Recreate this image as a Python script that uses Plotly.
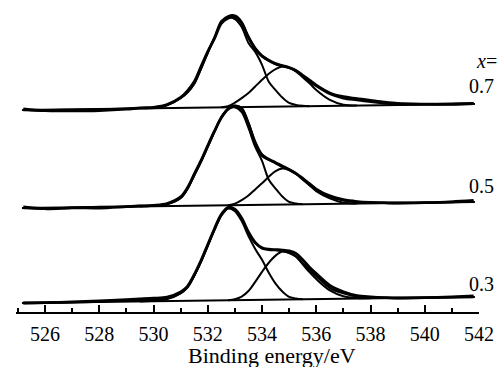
import plotly.graph_objects as go

# Binding energy grid (eV)
energy = [525.2, 526, 527, 528, 529, 529.5, 530, 530.5, 531, 531.25, 531.5, 531.75,
          532, 532.25, 532.5, 532.75, 533, 533.25, 533.5, 533.75, 534, 534.25, 534.5,
          534.75, 535, 535.25, 535.5, 535.75, 536, 536.5, 537, 537.5, 538, 538.5, 539,
          540, 541, 541.8]

# x = 0.7 (top)
top_meas = [1, -1, -1.5, -1.5, -0.5, 0.5, 1, 3.5, 10.5, 17, 26, 41, 56, 69, 84, 89,
            90, 84, 70, 58.5, 51, 46.5, 43, 41, 39, 36, 31, 26, 21, 13, 9, 7, 5, 3, 1.5, 0.5, 0, 0.5]
top_fit = [0, -0.5, -0.5, -0.5, 0, 0.3, 0.5, 3, 10, 15.5, 24, 39, 55, 70, 86, 91,
           91.5, 85, 69, 58, 50.5, 46, 42.5, 40.5, 38.5, 35.5, 30.5, 25, 20, 12, 7.5, 5.5, 3.5, 2, 1, 0.5, 0.5, 0.5]
top_p1 = [0, 0, 0, 0, 0, 0, 0, 3, 10, 15.5, 24, 39, 55, 70, 85, 89.5,
          88, 80, 64, 55, 42, 25, 16.5, 9, 3.5, 1.5, 0.5, 0, 0, 0, 0, 0, 0, 0, 0, 0, 0, 0]
top_p2 = [0, 0, 0, 0, 0, 0, 0, 0, 0, 0, 0, 0, 0, 0, 0, 1,
          4.5, 9, 14, 20.5, 27, 33, 37.5, 40, 39, 35, 29, 23, 16, 6, 1, 0, 0, 0, 0, 0, 0, 0]

# x = 0.5 (middle)
mid_meas = [1, -1, -0.5, -1, 0, 0.5, 1, 2.5, 9, 18, 31.5, 45, 60, 74.5, 87.5, 96,
            99, 96, 81, 62.5, 50, 45.5, 42, 38.5, 35, 31, 26, 20.5, 15, 8, 4, 2, 1, 0.5, 0, 0, 0.5, 1.5]
mid_fit = [0, -0.5, -0.5, 0, 0, 0.5, 0.5, 2, 8, 17, 30.5, 44, 59, 74, 88, 96.5,
           99.5, 97, 82, 62, 49, 45, 41.5, 37.5, 34.5, 30.5, 25, 19.5, 14, 7, 3.5, 1.5, 0.5, 0.3, 0, 0, 0.3, 0.5]
mid_p1 = [0, 0, 0, 0, 0, 0, 0.5, 2, 8, 17, 30.5, 44, 59, 74, 88, 96.5,
          98, 93, 77, 58, 44, 25, 16, 8, 2.5, 1, 0, 0, 0, 0, 0, 0, 0, 0, 0, 0, 0, 0]
mid_p2 = [0, 0, 0, 0, 0, 0, 0, 0, 0, 0, 0, 0, 0, 0, 0, 0,
          1.5, 5, 9.5, 15.5, 21.5, 28, 33.5, 36, 35, 31, 25, 19, 13, 5.5, 1, 0, 0, 0, 0, 0, 0, 0]

# x = 0.3 (bottom)
bot_meas = [0, 0, 0.5, 1, 2, 2.5, 3, 4, 9, 14.5, 26, 40, 56, 72, 86, 93,
            91, 82, 68, 57.5, 52, 50.5, 50, 49.5, 48.5, 46, 39.5, 32, 25.5, 13.5, 7, 3, 1.5, 0.5, 0, 0, 0.5, 1]
bot_fit = [0, 0, 0, 0.5, 1, 1.5, 1.5, 2.5, 8, 13.5, 25, 39, 55, 71, 85, 92,
           90, 81, 67, 57, 51.5, 50, 49.5, 48.5, 46.5, 43, 36, 29, 23, 11, 5.5, 2, 1, 0.5, 0, 0, 0, 0]
bot_p1 = [0, 0, 0, 0, 0, 0, 0.5, 2, 7.5, 13.5, 25, 39, 55, 71, 85, 92,
          89, 79, 64, 51, 40, 27, 16, 8, 2.5, 1, 0, 0, 0, 0, 0, 0, 0, 0, 0, 0, 0, 0]
bot_p2 = [0, 0, 0, 0, 0, 0, 0, 0, 0, 0, 0, 0, 0, 0, 0, 0,
          1, 3.5, 9, 18, 28, 37, 44, 48, 47, 43, 35, 27, 20, 8.5, 2.5, 0.5, 0, 0, 0, 0, 0, 0]

labels = ["0.7", "0.5", "0.3"]
x_ticks = [526, 528, 530, 532, 534, 536, 538, 540, 542]

# ---- layout constants (pixel-based vertical axis) ----
PLOT_H = 312
baselines_px = [(110, 104), (208, 202), (303, 297)]   # left/right baseline pixel rows
label_px = [86, 186, 284]

E0, E1 = energy[0], energy[-1]


def base_val(e, b):
    l, r = b
    px = l + (r - l) * (e - E0) / (E1 - E0)
    return PLOT_H - px


def trim(vals):
    nz = [i for i, v in enumerate(vals) if v != 0]
    a = max(nz[0] - 1, 0)
    z = min(nz[-1] + 1, len(vals) - 1)
    return list(range(a, z + 1))


fig = go.Figure()
spectra = [(top_meas, top_fit, top_p1, top_p2), (mid_meas, mid_fit, mid_p1, mid_p2),
           (bot_meas, bot_fit, bot_p1, bot_p2)]

for (meas, fit, p1, p2), b in zip(spectra, baselines_px):
    bl = [base_val(e, b) for e in energy]
    # straight background line
    fig.add_trace(go.Scatter(x=[E0 - 0.05, E1 + 0.05], y=[base_val(E0, b), base_val(E1, b)],
                             mode="lines", line=dict(color="black", width=2.0), hoverinfo="skip"))
    for comp in (p1, p2):
        idx = trim(comp)
        fig.add_trace(go.Scatter(x=[energy[i] for i in idx], y=[bl[i] + comp[i] for i in idx],
                                 mode="lines", line=dict(color="black", width=2.0, shape="spline", smoothing=0.9),
                                 hoverinfo="skip"))
    fig.add_trace(go.Scatter(x=energy, y=[bl[i] + fit[i] for i in range(len(energy))],
                             mode="lines", line=dict(color="black", width=2.4, shape="spline", smoothing=0.9),
                             hoverinfo="skip"))
    fig.add_trace(go.Scatter(x=energy, y=[bl[i] + meas[i] for i in range(len(energy))],
                             mode="lines", line=dict(color="black", width=2.8, shape="spline", smoothing=0.9),
                             hoverinfo="skip"))

serif = "Liberation Serif, Times New Roman, serif"
annotations = []
for lab, py in zip(labels, label_px):
    annotations.append(dict(x=481, y=367 - py, xref="paper", yref="paper", text=lab, showarrow=False,
                            font=dict(family=serif, size=20, color="black"),
                            xanchor="center", yanchor="middle"))
annotations.append(dict(x=486, y=367 - 61, xref="paper", yref="paper", text="<i>x</i>=", showarrow=False,
                        font=dict(family=serif, size=20, color="black"), xanchor="center", yanchor="middle"))
annotations.append(dict(x=272, y=367 - 355, xref="paper", yref="paper", text="Binding energy/eV",
                        showarrow=False, font=dict(family=serif, size=22, color="black"),
                        xanchor="center", yanchor="middle"))

# convert pixel positions of annotations to paper coords
L, R, T, B = 16, 23, 0, 55
W, H = 502, 367
for a in annotations:
    a["x"] = (a["x"] - L) / (W - L - R)
    a["y"] = (a["y"] - B) / (H - T - B)

fig.update_layout(
    width=W, height=H, margin=dict(l=L, r=R, t=T, b=B),
    paper_bgcolor="white", plot_bgcolor="white", showlegend=False,
    annotations=annotations,
    xaxis=dict(range=[524.93, 542.0], showline=True, linecolor="black", linewidth=1.5,
               tickmode="array", tickvals=x_ticks, ticktext=[str(t) for t in x_ticks],
               ticks="inside", ticklen=7, tickwidth=1.5, tickcolor="black",
               minor=dict(ticks="inside", ticklen=4, tickwidth=1.5, tickcolor="black",
                          tickmode="linear", tick0=525, dtick=1, showgrid=False),
               showgrid=False, zeroline=False, ticklabelstandoff=3,
               tickfont=dict(family=serif, size=20, color="black")),
    yaxis=dict(range=[0, PLOT_H], visible=False, showgrid=False, zeroline=False),
)

fig.write_html("out.html", config={"displayModeBar": False},
               post_script="document.body.style.margin='0';document.body.style.overflow='hidden';")
